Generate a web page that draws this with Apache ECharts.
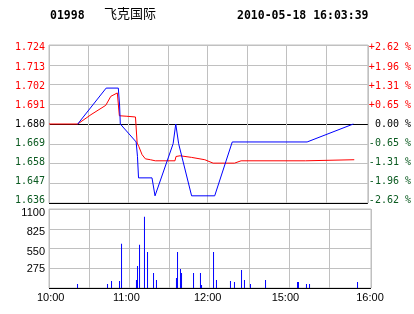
<!DOCTYPE html>
<html>
<head>
<meta charset="utf-8">
<script src="https://cdn.jsdelivr.net/npm/echarts@6/dist/echarts.min.js"></script>
<style>
html,body{margin:0;padding:0;background:#fff;}
#c{width:414px;height:314px;}
</style>
</head>
<body>
<div id="c"></div>
<script>
// ---- data (minutes counted from 10:00 along the trading-time axis; 12:30 == 14:30) ----
const stockCode = '01998';
const stockName = '飞克国际';
const stamp = '2010-05-18 16:03:39';

const priceTicks = ['1.636','1.647','1.658','1.669','1.680','1.691','1.702','1.713','1.724'];
const pctTicks = ['-2.62 %','-1.96 %','-1.31 %','-0.65 %',' 0.00 %','+0.65 %','+1.31 %','+1.96 %','+2.62 %'];
const volTicks = ['', '275', '550', '825', '1100'];
const timeLabels = ['10:00','','11:00','','12:00','','15:00','','16:00'];

const priceMin = [21.75, 43.3, 52.5, 53.5, 54, 66, 67, 67.8, 78, 80.3, 94, 95, 96, 97, 98.2, 108, 125.5, 138.8, 195.5, 230.5];
const priceVal = [1.680, 1.700, 1.700, 1.690, 1.680, 1.670, 1.662, 1.650, 1.650, 1.640, 1.669, 1.669, 1.680, 1.680, 1.669, 1.640, 1.640, 1.670, 1.670, 1.680];

const avgMin = [0, 21.75, 31.8, 43, 46.8, 48, 51.75, 52.8, 53.3, 59, 65.5, 66.75, 68, 70.5, 73, 76.8, 80.5, 95.4, 96.2, 99.3, 108, 118, 124.3, 140.5, 145.5, 194.3, 194.8, 231.2];
const avgVal = [1.680, 1.680, 1.6852, 1.6904, 1.6954, 1.6964, 1.6973, 1.6975, 1.6846, 1.6843, 1.6839, 1.6694, 1.6675, 1.6629, 1.6606, 1.6601, 1.6595, 1.6595, 1.6619, 1.6623, 1.6614, 1.6601, 1.6582, 1.6582, 1.6595, 1.6595, 1.6601, 1.6601];

const volMin = [21.4, 43.9, 46.9, 52.9, 54.4, 65.6, 66.4, 67.9, 71.6, 73.9, 78.4, 80.6, 95.6, 96.4, 98.6, 99.4, 108.4, 113.6, 114.4, 123.4, 125.6, 136.1, 139.1, 144.4, 146.6, 151.1, 162.4, 186.4, 187.1, 193.1, 195.4, 231.4];
const volVal = [56, 56, 98, 98, 615, 112, 308, 601, 993, 503, 210, 112, 140, 503, 266, 210, 210, 210, 42, 503, 112, 98, 84, 252, 112, 56, 112, 84, 84, 56, 56, 84];

// ---- chart ----
const GRAY = '#c0c0c0';
const RED = '#ff0000';
const GREEN = '#0a5a20';
const monoFont = '"DejaVu Sans Mono", monospace';
const sansFont = '"Liberation Sans", Arial, sans-serif';

const xSplitColors = [GRAY, GRAY, GRAY, GRAY, GRAY, GRAY, GRAY, GRAY, 'rgba(0,0,0,0)', GRAY];
const priceSplitColors = ['#000000', GRAY, GRAY, GRAY, '#000000', GRAY, GRAY, GRAY, GRAY];
const volSplitColors = ['#000000', GRAY, GRAY, GRAY, GRAY];

// small vertical nudges of the price labels (bottom -> top), as in the original
const priceLabelShift = [-2.3, -1.7, -0.7, 0, 0.7, 1, 1.6, 2.4, 2.7];
const volLabelShift = [0, 1, 3.5, 3, 4];
// horizontal nudges of the time labels
const timeLabelShift = [1.7, 0, -2.6, 0, -1.3, 0, -3.6, 0, 1];

function vpad(d) { return d >= 0 ? [2 * d, 0, 0, 0] : [0, 0, -2 * d, 0]; }
function hpad(d) { return d >= 0 ? [0, 0, 0, 2 * d] : [0, -2 * d, 0, 0]; }

const richPrice = {};
for (let i = 0; i < 9; i++) {
  const col = i > 4 ? RED : (i === 4 ? '#000' : GREEN);
  richPrice['p' + i] = {color: col, fontFamily: monoFont, fontSize: 10, padding: vpad(priceLabelShift[i])};
}
const richVol = {};
for (let i = 0; i < 5; i++) {
  richVol['v' + i] = {color: '#000', fontFamily: sansFont, fontSize: 11, padding: vpad(volLabelShift[i])};
}
const richTime = {};
for (let i = 0; i < 9; i++) {
  richTime['t' + i] = {color: '#000', fontFamily: sansFont, fontSize: 11, padding: hpad(timeLabelShift[i])};
}

const chart = echarts.init(document.getElementById('c'), null, {renderer: 'canvas'});
chart.setOption({
  animation: false,
  backgroundColor: '#ffffff',
  graphic: [
    {type: 'text', left: 50, top: 10, style: {text: stockCode, font: 'bold 11.5px "DejaVu Sans Mono"', fill: '#000'}},
    {type: 'text', left: 104, top: 7, style: {text: stockName, font: '13px "Noto Sans CJK SC"', fill: '#000'}},
    {type: 'text', left: 237, top: 10, style: {text: stamp, font: 'bold 11.5px "DejaVu Sans Mono"', fill: '#000'}}
  ],
  grid: [
    {left: 49, top: 45, width: 322, height: 158, show: true, borderColor: GRAY, borderWidth: 1, backgroundColor: 'transparent'},
    {left: 49, top: 209, width: 322, height: 79, show: true, borderColor: GRAY, borderWidth: 1, backgroundColor: 'transparent'}
  ],
  xAxis: [
    {type: 'value', gridIndex: 0, min: 0, max: 241.5, interval: 30,
     axisLine: {show: false}, axisTick: {show: false}, axisLabel: {show: false},
     splitLine: {show: true, lineStyle: {color: xSplitColors, width: 1}}},
    {type: 'value', gridIndex: 1, min: 0, max: 241.5, interval: 30,
     axisLine: {show: false}, axisTick: {show: false},
     axisLabel: {show: true, margin: 4, rich: richTime,
       formatter: function (v) {
         if (Math.abs(v % 30) > 1e-6) return '';
         const i = Math.round(v / 30);
         const s = timeLabels[i];
         return s ? '{t' + i + '|' + s + '}' : '';
       }},
     splitLine: {show: true, lineStyle: {color: xSplitColors, width: 1}}}
  ],
  yAxis: [
    {type: 'value', gridIndex: 0, min: 1.636, max: 1.724, show: false, splitLine: {show: false}},
    {type: 'value', gridIndex: 0, min: 0, max: 8, interval: 1, position: 'left',
     axisLine: {show: false}, axisTick: {show: false},
     axisLabel: {show: true, margin: 4, rich: richPrice,
       formatter: function (v) { const i = Math.round(v); return '{p' + i + '|' + priceTicks[i] + '}'; }},
     splitLine: {show: true, lineStyle: {color: priceSplitColors, width: 1}}},
    {type: 'value', gridIndex: 0, min: 0, max: 8, interval: 1, position: 'right',
     axisLine: {show: false}, axisTick: {show: false},
     axisLabel: {show: true, margin: 1, rich: richPrice,
       formatter: function (v) { const i = Math.round(v); return '{p' + i + '|' + pctTicks[i] + '}'; }},
     splitLine: {show: false}},
    {type: 'value', gridIndex: 1, min: 0, max: 1100, interval: 275, position: 'left',
     axisLine: {show: false}, axisTick: {show: false},
     axisLabel: {show: true, margin: 4, rich: richVol,
       formatter: function (v) { const i = Math.round(v / 275); const s = volTicks[i]; return s ? '{v' + i + '|' + s + '}' : ''; }},
     splitLine: {show: true, lineStyle: {color: volSplitColors, width: 1}}}
  ],
  series: [
    {type: 'line', xAxisIndex: 0, yAxisIndex: 0, showSymbol: false, symbol: 'none', z: 3,
     lineStyle: {color: RED, width: 1}, itemStyle: {color: RED},
     data: avgMin.map((m, i) => [m, avgVal[i]])},
    {type: 'line', xAxisIndex: 0, yAxisIndex: 0, showSymbol: false, symbol: 'none', z: 4,
     lineStyle: {color: '#0000ff', width: 1}, itemStyle: {color: '#0000ff'},
     data: priceMin.map((m, i) => [m, priceVal[i]])},
    {type: 'bar', xAxisIndex: 1, yAxisIndex: 3, barWidth: 1, z: 3,
     itemStyle: {color: '#0000ff'},
     data: volMin.map((m, i) => [m, volVal[i]])}
  ]
});
</script>
</body>
</html>
